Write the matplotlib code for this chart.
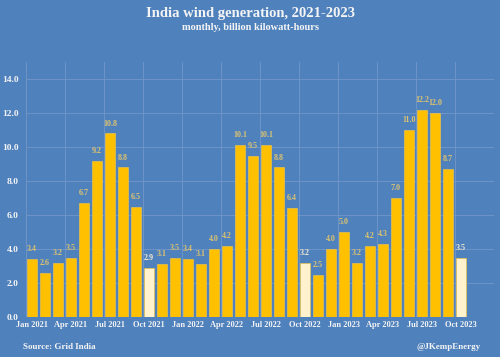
import matplotlib
matplotlib.use("Agg")
import matplotlib.pyplot as plt
import numpy as np

months = ["Jan 2021","Feb 2021","Mar 2021","Apr 2021","May 2021","Jun 2021","Jul 2021","Aug 2021","Sep 2021","Oct 2021","Nov 2021","Dec 2021",
          "Jan 2022","Feb 2022","Mar 2022","Apr 2022","May 2022","Jun 2022","Jul 2022","Aug 2022","Sep 2022","Oct 2022","Nov 2022","Dec 2022",
          "Jan 2023","Feb 2023","Mar 2023","Apr 2023","May 2023","Jun 2023","Jul 2023","Aug 2023","Sep 2023","Oct 2023"]
values = [3.4, 2.6, 3.2, 3.5, 6.7, 9.2, 10.8, 8.8, 6.5, 2.9, 3.1, 3.5,
          3.4, 3.1, 4.0, 4.2, 10.1, 9.5, 10.1, 8.8, 6.4, 3.2, 2.5, 4.0,
          5.0, 3.2, 4.2, 4.3, 7.0, 11.0, 12.2, 12.0, 8.7, 3.5]
highlight = ["Oct 2021", "Oct 2022", "Oct 2023"]
tick_labels = months[::3]

BG = "#4F81BD"
YEL = "#FFC000"
CREAM = "#FFF2CC"
plt.rcParams['font.family'] = ['Liberation Serif', 'DejaVu Serif']

fig = plt.figure(figsize=(5, 3.57), dpi=100, facecolor=BG)
ax = fig.add_axes([0.051, 0.112, 0.936, 0.714], facecolor=BG)

x = np.arange(len(values))
colors = [CREAM if m in highlight else YEL for m in months]
ax.bar(x, values, width=0.78, color=colors, edgecolor="#E8C24A", linewidth=0.5, zorder=3)
for xi, v, m in zip(x, values, months):
    c = "#F2EAD0" if m in highlight else "#DDC36E"
    ax.text(xi, v + 0.35, f"{v:.1f}", ha="center", va="bottom", fontsize=5.8,
            color=c, fontweight="bold", zorder=4)

ax.set_xlim(-0.5, len(values) + 1.5)
ax.set_ylim(0, 15)
ax.set_yticks(np.arange(0, 15, 2))
ax.set_yticklabels([f"{t:.1f}" for t in np.arange(0, 15, 2)])
ax.set_xticks(x[::3])
ax.set_xticklabels(tick_labels)
ax.set_xticks(np.arange(-0.5, len(values) + 2, 3), minor=True)
ax.tick_params(axis="both", which="both", length=0, colors="#F4F4F4")
ax.tick_params(axis="x", labelsize=6, pad=3)
ax.tick_params(axis="y", labelsize=6.8, pad=5)
for lab in ax.get_xticklabels() + ax.get_yticklabels():
    lab.set_fontweight("bold")
ax.grid(True, axis="y", which="major", color="#7397C8", linewidth=0.6, zorder=0)
ax.grid(True, axis="x", which="minor", color="#7397C8", linewidth=0.6, zorder=0)
for s in ax.spines.values():
    s.set_visible(False)

fig.text(0.5, 0.962, "India wind generation, 2021-2023", ha="center", va="center",
         fontsize=10.5, fontweight="bold", color="#F4F4F4")
fig.text(0.5, 0.922, "monthly, billion kilowatt-hours", ha="center", va="center",
         fontsize=7.5, fontweight="bold", color="#F4F4F4")
fig.text(0.046, 0.028, "Source: Grid India", ha="left", va="center",
         fontsize=6.5, fontweight="bold", color="#F4F4F4")
fig.text(0.962, 0.028, "@JKempEnergy", ha="right", va="center",
         fontsize=6.5, fontweight="bold", color="#F4F4F4")

fig.savefig("out.png", dpi=100, facecolor=BG)
